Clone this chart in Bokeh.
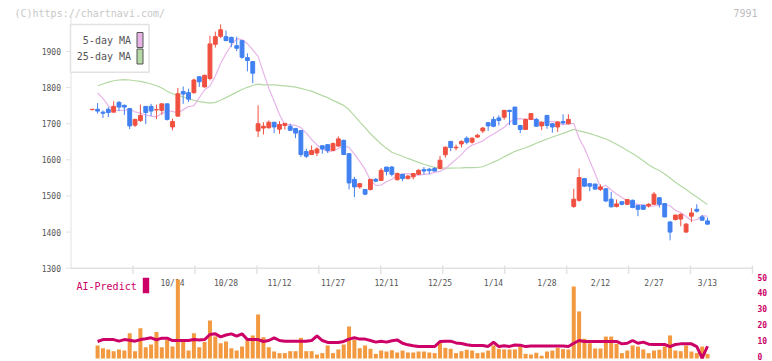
import numpy as np
from bokeh.plotting import figure
from bokeh.models import Range1d, Label, BoxAnnotation, ColumnDataSource
from bokeh.core.properties import value
from bokeh.embed import file_html
from bokeh.resources import INLINE

# ---------------- data ----------------
open_ = [1739, 1740, 1732, 1740, 1732, 1759, 1751, 1742, 1696, 1709,
         1748, 1748, 1738, 1737, 1755, 1691, 1721, 1789, 1786, 1786,
         1830, 1802, 1825, 1920, 1942, 1941, 1939, 1916, 1930, 1883,
         1872, 1680, 1688, 1689, 1704, 1685, 1695, 1693, 1687, 1681,
         1623, 1615, 1619, 1639, 1642, 1626, 1638, 1654, 1617, 1546,
         1525, 1518, 1518, 1546, 1543, 1580, 1580, 1545, 1560, 1548,
         1553, 1560, 1573, 1574, 1576, 1576, 1614, 1651, 1633, 1644,
         1660, 1649, 1663, 1680, 1703, 1712, 1716, 1718, 1737, 1746,
         1695, 1684, 1712, 1712, 1694, 1723, 1700, 1691, 1706, 1700,
         1471, 1488, 1548, 1534, 1533, 1518, 1520, 1491, 1471, 1484,
         1477, 1488, 1474, 1474, 1472, 1477, 1495, 1479, 1428, 1435,
         1436, 1400, 1444, 1463, 1442, 1431]
high = [1741, 1757, 1737, 1746, 1762, 1763, 1753, 1744, 1714, 1753,
        1748, 1755, 1753, 1756, 1756, 1714, 1799, 1803, 1797, 1825,
        1832, 1836, 1944, 1955, 1975, 1958, 1941, 1941, 1931, 1895,
        1873, 1751, 1704, 1709, 1705, 1707, 1702, 1700, 1688, 1682,
        1631, 1640, 1635, 1640, 1643, 1648, 1665, 1656, 1618, 1553,
        1535, 1519, 1547, 1550, 1577, 1580, 1583, 1565, 1561, 1558,
        1563, 1574, 1580, 1578, 1580, 1611, 1637, 1652, 1642, 1654,
        1665, 1662, 1672, 1691, 1704, 1720, 1723, 1738, 1739, 1747,
        1697, 1714, 1729, 1716, 1706, 1724, 1702, 1707, 1726, 1726,
        1520, 1576, 1549, 1535, 1534, 1532, 1521, 1511, 1490, 1486,
        1491, 1490, 1475, 1475, 1480, 1511, 1497, 1480, 1430, 1448,
        1452, 1425, 1466, 1477, 1447, 1440]
low = [1737, 1728, 1716, 1718, 1732, 1735, 1724, 1685, 1691, 1705,
       1699, 1721, 1713, 1725, 1709, 1682, 1720, 1755, 1760, 1783,
       1802, 1800, 1820, 1911, 1937, 1929, 1912, 1901, 1880, 1845,
       1812, 1663, 1670, 1686, 1674, 1672, 1684, 1680, 1660, 1608,
       1605, 1614, 1610, 1617, 1619, 1624, 1636, 1613, 1518, 1497,
       1520, 1502, 1515, 1538, 1542, 1557, 1554, 1543, 1541, 1546,
       1546, 1558, 1560, 1560, 1568, 1574, 1606, 1624, 1626, 1634,
       1643, 1645, 1661, 1674, 1680, 1690, 1695, 1711, 1696, 1697,
       1674, 1683, 1710, 1692, 1682, 1686, 1675, 1677, 1698, 1698,
       1467, 1484, 1526, 1513, 1517, 1514, 1484, 1468, 1468, 1474,
       1475, 1466, 1444, 1462, 1468, 1476, 1468, 1441, 1377, 1432,
       1416, 1398, 1428, 1454, 1432, 1421]
close = [1740, 1735, 1729, 1731, 1748, 1746, 1746, 1694, 1712, 1723,
         1731, 1735, 1739, 1755, 1712, 1706, 1783, 1782, 1768, 1821,
         1816, 1834, 1921, 1941, 1960, 1930, 1925, 1909, 1884, 1875,
         1840, 1700, 1693, 1704, 1691, 1698, 1701, 1682, 1674, 1615,
         1610, 1626, 1630, 1630, 1626, 1645, 1658, 1615, 1536, 1525,
         1534, 1505, 1546, 1541, 1571, 1568, 1560, 1562, 1548, 1555,
         1562, 1571, 1569, 1570, 1569, 1599, 1635, 1634, 1635, 1651,
         1649, 1660, 1668, 1688, 1694, 1693, 1709, 1737, 1734, 1698,
         1684, 1712, 1728, 1693, 1704, 1695, 1691, 1705, 1702, 1712,
         1491, 1551, 1527, 1527, 1519, 1525, 1486, 1470, 1478, 1477,
         1490, 1468, 1463, 1463, 1477, 1505, 1477, 1442, 1400, 1447,
         1449, 1422, 1453, 1458, 1433, 1422]

# moving averages, volume and AI-Predict start at the second session
ma5 = [1785, 1770, 1750, 1738, 1736.6, 1737.8, 1740, 1733, 1729.2, 1724.2,
       1721.2, 1719, 1728, 1736.6, 1734.4, 1729.4, 1739, 1747.6, 1750.2, 1772,
       1794, 1804.2, 1832, 1866.6, 1894.4, 1917.2, 1935.4, 1933, 1921.6, 1904.6,
       1886.6, 1841.6, 1798.4, 1762.4, 1725.6, 1697.2, 1697.4, 1695.2, 1689.2, 1674,
       1656.4, 1641.4, 1631, 1622.2, 1624.4, 1631.4, 1637.8, 1634.8, 1616, 1595.8,
       1573.6, 1543, 1529.2, 1530.2, 1539.4, 1546.2, 1557.2, 1560.4, 1561.8, 1558.6,
       1557.4, 1559.6, 1561, 1565.4, 1568.2, 1575.6, 1588.4, 1601.4, 1614.4, 1630.8,
       1640.8, 1645.8, 1652.6, 1663.2, 1671.8, 1680.6, 1690.4, 1704.2, 1713.4, 1714.2,
       1712.4, 1713, 1711.2, 1703, 1704.2, 1706.4, 1702.2, 1697.6, 1699.4, 1701,
       1660.2, 1632.2, 1596.6, 1561.6, 1522.8, 1529.6, 1516.6, 1505.2, 1495.4, 1487.2,
       1480.2, 1476.6, 1475.2, 1472.2, 1472.2, 1475.2, 1477, 1472.8, 1460.2, 1454.2,
       1443, 1432, 1434.2, 1445.8, 1443.8]
ma25 = [1805, 1810, 1815, 1819, 1821, 1822, 1821, 1819, 1817, 1814,
        1810, 1805, 1799, 1790, 1783, 1779, 1774, 1769, 1765, 1761,
        1759, 1757, 1759, 1765, 1772.3, 1779.9, 1787.5, 1794.7, 1800.8, 1805.9,
        1809.7, 1807.8, 1807.8, 1807.5, 1806.2, 1804.9, 1803.5, 1801.2, 1798, 1794.1,
        1790.3, 1784, 1777.9, 1772.4, 1764.6, 1757.8, 1750.7, 1738.5, 1722.3, 1704.9,
        1689, 1672.2, 1657.7, 1644, 1631.8, 1621, 1615.4, 1610.1, 1603.9, 1598.4,
        1593, 1587.8, 1583.3, 1579.1, 1577.3, 1576.8, 1577.2, 1577.4, 1577.6, 1578.6,
        1578.7, 1578.8, 1580.9, 1587, 1593.8, 1600.1, 1608.3, 1615.9, 1623.6, 1628.7,
        1633.4, 1639.4, 1646.1, 1651.9, 1657.8, 1663.2, 1668, 1673.4, 1678.7, 1684.4,
        1680.1, 1676.7, 1672.4, 1668.1, 1662.8, 1657.8, 1650.9, 1643, 1634.6, 1625.9,
        1617.8, 1608.1, 1597.2, 1586.3, 1577.5, 1570.3, 1560.9, 1549.5, 1537.8, 1527.5,
        1517.6, 1506.9, 1496.8, 1487, 1476]
volume = [8.2, 6.5, 5.7, 4.6, 5.7, 5.0, 15.9, 4.6, 19.1, 7.1,
          8.8, 16.6, 7.1, 11.7, 7.5, 49.7, 11.7, 5.0, 15.9, 7.1,
          10.3, 23.9, 13.8, 9.6, 10.7, 6.5, 5.0, 7.5, 12.4, 14.5,
          27.7, 13.4, 7.1, 4.4, 3.4, 3.4, 4.6, 4.6, 13.0, 4.6,
          4.6, 2.5, 3.4, 8.2, 3.4, 5.7, 8.8, 20.1, 11.7, 6.5,
          8.2, 6.1, 2.9, 5.0, 4.4, 5.2, 3.8, 5.0, 3.8, 3.8,
          4.4, 4.4, 3.8, 3.4, 10.7, 6.7, 6.1, 3.4, 4.6, 5.5,
          5.0, 3.4, 3.8, 5.0, 8.2, 6.1, 5.7, 5.7, 5.7, 7.5,
          2.9, 2.5, 3.6, 1.7, 4.4, 5.0, 6.7, 5.9, 5.7, 45.3,
          29.6, 12.4, 9.6, 6.3, 6.3, 13.8, 13.8, 9.2, 3.4, 5.0,
          8.2, 7.5, 5.7, 3.4, 5.0, 5.5, 7.5, 14.5, 5.0, 4.6,
          8.2, 4.4, 3.4, 7.5, 2.9]
ai_predict = [10.7, 11.9, 11.9, 11.9, 10.9, 11.9, 11.5, 10.9, 11.9, 12.4,
              13.0, 11.7, 12.8, 12.8, 11.3, 11.3, 11.3, 11.3, 11.9, 11.7,
              11.9, 15.1, 15.5, 13.6, 14.8, 15.5, 14.0, 15.5, 11.9, 11.9,
              11.9, 10.7, 11.3, 13.0, 11.3, 10.9, 10.9, 10.9, 10.9, 10.9,
              11.3, 14.3, 11.3, 10.1, 10.1, 10.1, 10.7, 12.2, 13.0, 12.2,
              12.2, 11.3, 10.3, 10.9, 10.3, 11.2, 11.7, 9.6, 8.6, 8.0,
              7.5, 7.5, 7.5, 7.5, 10.7, 10.9, 10.9, 9.8, 9.4, 8.6,
              8.2, 8.2, 8.2, 7.6, 10.2, 7.5, 8.0, 7.6, 8.5, 8.4,
              7.5, 7.9, 7.9, 7.9, 7.9, 7.9, 7.9, 7.8, 7.6, 9.6,
              11.3, 10.7, 10.7, 10.7, 10.7, 10.7, 10.7, 10.7, 9.2, 9.6,
              11.3, 9.6, 10.3, 9.0, 8.8, 8.8, 8.8, 7.5, 8.8, 9.2,
              9.2, 9.2, 7.5, 0.2, 7.7]
date_labels = ["10/14", "10/28", "11/12", "11/27", "12/11", "12/25",
               "1/14", "1/28", "2/12", "2/27", "3/13"]
price_ticks = [1300, 1400, 1500, 1600, 1700, 1800, 1900]
volume_ticks = [0, 10, 20, 30, 40, 50]

# ---------------- styling / layout ----------------
FONT = "DejaVu Sans Mono"
RED, BLUE = "#f05040", "#4080f0"
MA5_COLOR, MA25_COLOR = "#e8b4e8", "#b4d9a4"
VOL_COLOR, AI_COLOR = "#f39a40", "#cc0066"
AXIS_COLOR, TEXT_COLOR = "#e2e2e2", "#555555"

W, H = 772, 361
FIRST_LABEL_IDX, LABEL_STEP = 15, 10
CANDLE0_PX, STEP_PX = 91.75, 5.35          # canvas x of first session, px per session
P1300_PX, PX_PER_PRICE = 267.7, 0.3612     # canvas y of price 1300, px per yen
VOL0_PX, PX_PER_VOL = 358.0, 1.59          # canvas y of volume 0, px per unit
AX_L, AX_R = 70.5, 752                     # price panel left / right edges


def xd(px):
    return (px - CANDLE0_PX) / STEP_PX


def yd(py):
    return 1300 + (P1300_PX - py) / PX_PER_PRICE


def vd(py):
    return (VOL0_PX - py) / PX_PER_VOL


p = figure(width=W, height=H,
           x_range=Range1d(xd(0), xd(W)), y_range=Range1d(yd(H), yd(0)),
           x_axis_location=None, y_axis_location=None,
           output_backend="svg", toolbar_location=None,
           min_border_left=0, min_border_right=0, min_border_top=0, min_border_bottom=0)
p.extra_y_ranges = {"vol": Range1d(vd(H), vd(0))}
p.outline_line_color = None
p.background_fill_color = "white"
p.border_fill_color = "white"
p.grid.visible = False

font = value(FONT)

# ---- price axis (left), drawn by hand so the whole canvas is the frame ----
p.segment(x0=[xd(AX_L)], y0=[price_ticks[0]], x1=[xd(AX_L)], y1=[2000],
          line_color=AXIS_COLOR, line_width=1)
p.segment(x0=[xd(AX_L - 5)] * len(price_ticks), y0=price_ticks,
          x1=[xd(AX_L)] * len(price_ticks), y1=price_ticks,
          line_color=AXIS_COLOR, line_width=1)
p.text(x=[xd(60.5)] * len(price_ticks), y=price_ticks, text=[str(t) for t in price_ticks],
       text_font=font, text_font_size="8px", text_color=TEXT_COLOR,
       text_align="right", text_baseline="middle")

# ---- time axis line with evenly spaced tick marks ----
p.segment(x0=[xd(AX_L)], y0=[price_ticks[0]], x1=[xd(AX_R)], y1=[price_ticks[0]],
          line_color=AXIS_COLOR, line_width=1.5)
tick_x = np.linspace(xd(AX_L), xd(AX_R), 12)[1:]
p.segment(x0=tick_x, y0=[yd(265)] * len(tick_x), x1=tick_x, y1=[yd(273.5)] * len(tick_x),
          line_color=AXIS_COLOR, line_width=1.5)

# date labels
label_x = [FIRST_LABEL_IDX + LABEL_STEP * k for k in range(len(date_labels))]
p.text(x=label_x, y=[yd(282.5)] * len(label_x), text=date_labels,
       text_font=font, text_font_size="8px", text_color=TEXT_COLOR,
       text_align="center", text_baseline="middle")

# ---- volume axis labels (right) ----
p.text(x=[xd(757)] * len(volume_ticks), y=volume_ticks, y_range_name="vol",
       text=[str(t) for t in volume_ticks], text_font=font, text_font_size="8px",
       text_color=AI_COLOR, text_font_style="bold", text_align="left",
       text_baseline="middle", y_offset=-2)

# moving averages
idx = np.arange(len(close))
p.line(idx[1:], ma25, line_color=MA25_COLOR, line_width=1.2)
p.line(idx[1:], ma5, line_color=MA5_COLOR, line_width=1.2)

# candles
o, h, l, c = map(np.array, (open_, high, low, close))
src = ColumnDataSource(dict(x=idx, h=h, l=l, top=np.maximum(o, c), bottom=np.minimum(o, c),
                            color=np.where(c >= o, RED, BLUE)))
p.segment(x0="x", y0="h", x1="x", y1="l", line_color="color", line_width=1, source=src)
p.vbar(x="x", width=0.72, top="top", bottom="bottom", fill_color="color",
       line_color="color", line_width=1, source=src)

# volume + AI predict
p.vbar(x=idx[1:], width=0.75, top=volume, bottom=0, y_range_name="vol",
       fill_color=VOL_COLOR, line_color=None)
p.line(idx[1:], ai_predict, y_range_name="vol", line_color=AI_COLOR, line_width=3)

# header texts
p.add_layout(Label(x=xd(14), y=yd(12.5), text="(C)https://chartnavi.com/",
                   text_font=FONT, text_font_size="10px", text_color="#c8c8c8",
                   text_align="left", text_baseline="middle"))
p.add_layout(Label(x=xd(757), y=yd(12.5), text="7991",
                   text_font=FONT, text_font_size="10px", text_color="#bdbdbd",
                   text_align="right", text_baseline="middle"))

# MA legend
p.add_layout(BoxAnnotation(left=xd(70), right=xd(148.5), top=yd(24), bottom=yd(71.7),
                           fill_color="white", fill_alpha=1, line_color=AXIS_COLOR,
                           line_width=1.5, line_alpha=1))
for text, color, cy in (("5-day MA", MA5_COLOR, 39.5), ("25-day MA", MA25_COLOR, 56)):
    p.add_layout(Label(x=xd(130.5), y=yd(cy), text=text, text_font=FONT,
                       text_font_size="10px", text_color=TEXT_COLOR,
                       text_align="right", text_baseline="middle"))
    p.add_layout(BoxAnnotation(left=xd(136.5), right=xd(142.5), top=yd(cy - 7.5),
                               bottom=yd(cy + 7.5), fill_color=color, fill_alpha=1,
                               line_color="#555555", line_width=1, line_alpha=1))

# AI-Predict legend
p.add_layout(Label(x=xd(76), y=yd(286), text="AI-Predict", text_font=FONT,
                   text_font_size="10px", text_color=AI_COLOR,
                   text_align="left", text_baseline="middle"))
p.add_layout(BoxAnnotation(left=xd(142.3), right=xd(148.7), top=yd(277.3), bottom=yd(292.7),
                           fill_color=AI_COLOR, fill_alpha=1, line_color=None))

open("out.html", "w").write(file_html(p, INLINE))
